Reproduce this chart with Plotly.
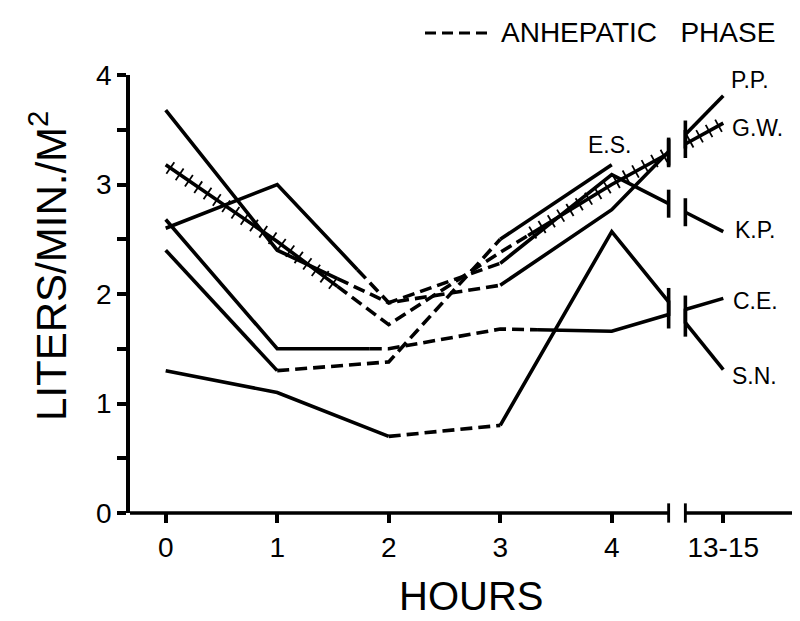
import numpy as np
import plotly.graph_objects as go

# hours after start; the 13-15 h reading sits at position 5, past an axis break
HOURS = [0, 1, 2, 3, 4, 5]
HOUR_LABELS = ["0", "1", "2", "3", "4", "13-15"]
Y_TICKS = [0, 1, 2, 3, 4]

# cardiac index, liters/min/m2, one list per patient
PP = [2.60, 3.00, 1.92, 2.08, 2.77, 3.81]
GW = [3.18, 2.48, 1.72, 2.38, 3.00, 3.56]
KP = [3.68, 2.40, 1.92, 2.28, 3.09, 2.57]
ES = [2.40, 1.30, 1.38, 2.50, 3.18]
CE = [2.68, 1.50, 1.50, 1.68, 1.66, 1.96]
SN = [1.30, 1.10, 0.70, 0.80, 2.57, 1.31]

PATIENTS = ["P.P.", "G.W.", "K.P.", "E.S.", "C.E.", "S.N."]
SERIES = [PP, GW, KP, ES, CE, SN]

# anhepatic phase (hours) for each patient
ANHEP_START = [1.72, 1.54, 1.54, 1.00, 1.83, 2.00]
ANHEP_END = [3.00, 3.25, 3.00, 3.00, 3.33, 3.00]

# ---- layout constants
W, H = 800, 621
M_L, M_R, M_T, M_B = 122, 10, 67, 116
X_MIN, X_MAX = -0.32, 5.67
Y_MIN, Y_MAX = 0, 4
BREAK_L, BREAK_R = 4.51, 4.66
PLOT_W = W - M_L - M_R
PX_X = PLOT_W / (X_MAX - X_MIN)
PX_Y = (H - M_T - M_B) / (Y_MAX - Y_MIN)

FONT = "Liberation Sans, Arial, sans-serif"
LW = 3.6
DASH = "12px,6px"


def piece(xs, ys, a, b):
    """Polyline of a series between x=a and x=b (ends interpolated)."""
    xs = np.asarray(xs, float)
    ys = np.asarray(ys, float)
    inner = xs[(xs > a) & (xs < b)]
    px = np.concatenate([[a], inner, [b]])
    return px, np.interp(px, xs, ys)


def hatch_points(px, py, step=10.5):
    """Points every `step` pixels along a polyline, with perpendicular angle."""
    out_x, out_y, out_a = [], [], []
    for i in range(len(px) - 1):
        dx = (px[i + 1] - px[i]) * PX_X
        dy = -(py[i + 1] - py[i]) * PX_Y
        seg = np.hypot(dx, dy)
        n = max(int(seg // step), 1)
        t = (np.arange(n) + 0.5) / n
        out_x += list(px[i] + t * (px[i + 1] - px[i]))
        out_y += list(py[i] + t * (py[i + 1] - py[i]))
        out_a += [np.degrees(np.arctan2(dy, dx))] * n
    return out_x, out_y, out_a


def xp(x):
    return (x - X_MIN) / (X_MAX - X_MIN)


def xpix(px):
    return (px - M_L) / PLOT_W


fig = go.Figure()

for name, vals, s, e in zip(PATIENTS, SERIES, ANHEP_START, ANHEP_END):
    xs = HOURS[:len(vals)]
    last = xs[-1]
    solid = [piece(xs, vals, 0, s), piece(xs, vals, e, min(BREAK_L, last))]
    if last > BREAK_R:
        solid.append(piece(xs, vals, BREAK_R, last))
    dashed = piece(xs, vals, s, e)

    for sx, sy in solid:
        fig.add_trace(go.Scatter(x=sx, y=sy, mode="lines",
                                 line=dict(color="black", width=LW)))
        if name == "G.W.":
            hx, hy, ha = hatch_points(sx, sy)
            fig.add_trace(go.Scatter(
                x=hx, y=hy, mode="markers",
                marker=dict(symbol="line-ns", size=10, angle=ha,
                            line=dict(color="black", width=1.8))))
    fig.add_trace(go.Scatter(x=dashed[0], y=dashed[1], mode="lines",
                             line=dict(color="black", width=LW, dash=DASH)))

    # end bars either side of the axis break
    if last > BREAK_R:
        bx = [BREAK_L, BREAK_R]
        fig.add_trace(go.Scatter(
            x=bx, y=np.interp(bx, xs, vals), mode="markers", cliponaxis=False,
            marker=dict(symbol="line-ns", size=20,
                        line=dict(color="black", width=LW))))

# broken x axis
for x0, x1 in [(X_MIN, BREAK_L), (BREAK_R, X_MAX)]:
    fig.add_shape(type="line", xref="paper", yref="paper",
                  x0=xp(x0), x1=xp(x1), y0=0, y1=0,
                  line=dict(color="black", width=LW))
for bx in [BREAK_L, BREAK_R]:
    fig.add_shape(type="line", xref="paper", yref="paper",
                  x0=xp(bx), x1=xp(bx), y0=-0.022, y1=0.022,
                  line=dict(color="black", width=LW * 0.8))

# patient labels
label_pos = {
    "P.P.": (5.24, 3.95), "G.W.": (5.31, 3.52), "K.P.": (5.29, 2.58),
    "C.E.": (5.29, 1.94), "S.N.": (5.28, 1.25), "E.S.": (3.98, 3.36),
}
for name, (lx, ly) in label_pos.items():
    fig.add_annotation(x=lx, y=ly, xref="x", yref="y", text=name,
                       showarrow=False, xanchor="center", yanchor="middle",
                       font=dict(size=23, color="black"))

# dashed-line key
fig.add_shape(type="line", xref="paper", yref="paper",
              x0=xpix(417), x1=xpix(481), y0=1.096, y1=1.096,
              line=dict(color="black", width=LW * 0.85, dash="11px,6px"))
fig.add_annotation(x=xpix(491), y=1.096, xref="paper", yref="paper",
                   text="ANHEPATIC\u00a0\u00a0\u00a0PHASE", showarrow=False,
                   xanchor="left", yanchor="middle",
                   font=dict(size=28, color="black"))

# axis titles
fig.add_annotation(x=xpix(40), y=0.564, xref="paper", yref="paper",
                   text="LITERS/MIN./M<sup>2</sup>", textangle=-90, showarrow=False,
                   xanchor="center", yanchor="middle",
                   font=dict(size=42, color="black"))
fig.add_annotation(x=xpix(463), y=-0.19, xref="paper", yref="paper",
                   text="HOURS", showarrow=False, xanchor="center", yanchor="middle",
                   font=dict(size=40, color="black"))

fig.update_xaxes(range=[X_MIN, X_MAX], tickvals=HOURS, ticktext=HOUR_LABELS,
                 showline=False, showgrid=False, zeroline=False,
                 ticks="outside", ticklen=9, tickwidth=LW, tickcolor="black",
                 tickfont=dict(size=28, color="black"))
fig.update_yaxes(range=[Y_MIN, Y_MAX], tickvals=Y_TICKS,
                 showline=True, linewidth=LW, linecolor="black",
                 showgrid=False, zeroline=False,
                 ticks="outside", ticklen=9, tickwidth=LW, tickcolor="black",
                 minor=dict(dtick=0.5, ticks="outside", ticklen=9,
                            tickwidth=LW, tickcolor="black", showgrid=False),
                 tickfont=dict(size=28, color="black"))

fig.update_layout(width=W, height=H, showlegend=False,
                  margin=dict(l=M_L, r=M_R, t=M_T, b=M_B),
                  plot_bgcolor="white", paper_bgcolor="white",
                  font=dict(family=FONT, color="black"))

fig.write_html("out.html")
